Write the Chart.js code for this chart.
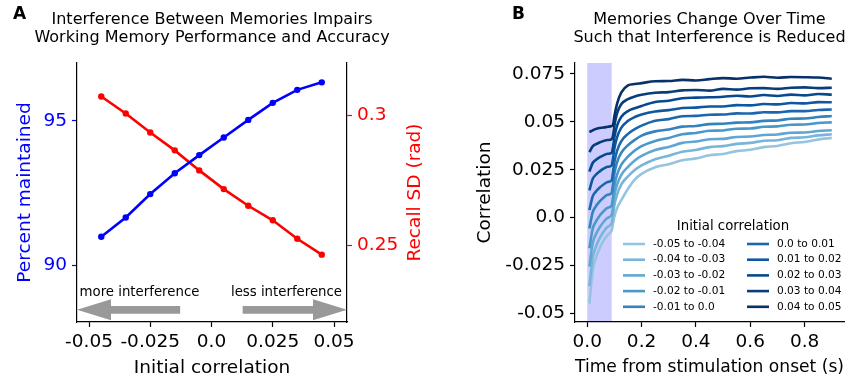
<!DOCTYPE html>
<html>
<head>
<meta charset="utf-8">
<script src="https://cdn.jsdelivr.net/npm/chart.js@4.4.1/dist/chart.umd.min.js"></script>
<style>
  body { margin: 0; background: #fff; }
  #wrapA { position: absolute; left: 0; top: 0; width: 430px; height: 384px; }
  #wrapB { position: absolute; left: 430px; top: 0; width: 429px; height: 384px; }
</style>
</head>
<body>
<div id="wrapA"><canvas id="chartA" width="430" height="384"></canvas></div>
<div id="wrapB"><canvas id="chartB" width="429" height="384"></canvas></div>
<script>
const FONT = "'DejaVu Sans', sans-serif";

// ---- panel A data ----
const initialCorr = [-0.045, -0.035, -0.025, -0.015, -0.005, 0.005, 0.015, 0.025, 0.035, 0.045];
const percentMaintained = [90.98, 91.65, 92.46, 93.18, 93.81, 94.42, 95.03, 95.62, 96.07, 96.33];
const recallSD = [0.3071, 0.3006, 0.2933, 0.2864, 0.2787, 0.2715, 0.2651, 0.2595, 0.2524, 0.2463];
const xTicksA = [-0.05, -0.025, 0, 0.025, 0.05];
const xTickLabelsA = ["-0.05", "-0.025", "0.0", "0.025", "0.05"];
const leftTicksA = [90, 95];
const rightTicksA = [0.25, 0.3];
const rightTickLabelsA = ["0.25", "0.3"];

// ---- panel B data ----
const timeSec = [0.008, 0.02, 0.03, 0.045, 0.06, 0.075, 0.09, 0.095, 0.1, 0.11, 0.125, 0.15, 0.175, 0.2,
  0.25, 0.3, 0.35, 0.4, 0.45, 0.5, 0.55, 0.6, 0.65, 0.7, 0.75, 0.8, 0.85, 0.9];
const binLabels = ["-0.05 to -0.04", "-0.04 to -0.03", "-0.03 to -0.02", "-0.02 to -0.01", "-0.01 to 0.0",
  "0.0 to 0.01", "0.01 to 0.02", "0.02 to 0.03", "0.03 to 0.04", "0.04 to 0.05"];
const corrBinM5 = [-0.0449, -0.0277, -0.0219, -0.0162, -0.0120, -0.0090, -0.0066, -0.0030, 0.0005, 0.0050, 0.0090, 0.0151, 0.0198, 0.0228,
  0.0263, 0.0279, 0.0299, 0.0309, 0.0325, 0.0332, 0.0347, 0.0354, 0.0368, 0.0374, 0.0388, 0.0395, 0.0408, 0.0416];
const corrBinM4 = [-0.0358, -0.0210, -0.0160, -0.0110, -0.0074, -0.0048, -0.0028, 0.0015, 0.0065, 0.0120, 0.0172, 0.0215, 0.0248, 0.0272,
  0.0305, 0.0323, 0.0344, 0.0353, 0.0368, 0.0373, 0.0385, 0.0390, 0.0401, 0.0404, 0.0416, 0.0419, 0.0429, 0.0435];
const corrBinM3 = [-0.0256, -0.0134, -0.0093, -0.0053, -0.0023, -0.0001, 0.0015, 0.0060, 0.0115, 0.0172, 0.0222, 0.0265, 0.0298, 0.0322,
  0.0353, 0.0369, 0.0390, 0.0397, 0.0409, 0.0411, 0.0421, 0.0423, 0.0431, 0.0434, 0.0443, 0.0444, 0.0452, 0.0456];
const corrBinM2 = [-0.0160, -0.0059, -0.0026, 0.0008, 0.0033, 0.0051, 0.0064, 0.0110, 0.0165, 0.0225, 0.0275, 0.0318, 0.0350, 0.0373,
  0.0400, 0.0416, 0.0435, 0.0442, 0.0453, 0.0455, 0.0464, 0.0465, 0.0474, 0.0476, 0.0485, 0.0486, 0.0494, 0.0497];
const corrBinM1 = [-0.0057, 0.0027, 0.0055, 0.0083, 0.0104, 0.0119, 0.0130, 0.0180, 0.0230, 0.0290, 0.0338, 0.0378, 0.0406, 0.0428,
  0.0450, 0.0460, 0.0475, 0.0478, 0.0488, 0.0490, 0.0496, 0.0497, 0.0505, 0.0507, 0.0516, 0.0517, 0.0525, 0.0530];
const corrBinP0 = [0.0040, 0.0110, 0.0133, 0.0156, 0.0173, 0.0186, 0.0195, 0.0240, 0.0290, 0.0350, 0.0398, 0.0437, 0.0462, 0.0480,
  0.0505, 0.0514, 0.0529, 0.0531, 0.0537, 0.0538, 0.0544, 0.0543, 0.0550, 0.0549, 0.0556, 0.0556, 0.0562, 0.0564];
const corrBinP1 = [0.0142, 0.0201, 0.0221, 0.0240, 0.0255, 0.0265, 0.0273, 0.0310, 0.0360, 0.0420, 0.0468, 0.0505, 0.0525, 0.0538,
  0.0554, 0.0561, 0.0572, 0.0574, 0.0580, 0.0580, 0.0587, 0.0586, 0.0593, 0.0591, 0.0598, 0.0596, 0.0603, 0.0602];
const corrBinP2 = [0.0240, 0.0285, 0.0299, 0.0314, 0.0325, 0.0333, 0.0339, 0.0370, 0.0420, 0.0480, 0.0525, 0.0556, 0.0571, 0.0583,
  0.0603, 0.0610, 0.0623, 0.0626, 0.0628, 0.0631, 0.0636, 0.0632, 0.0640, 0.0635, 0.0642, 0.0638, 0.0645, 0.0642];
const corrBinP3 = [0.0342, 0.0372, 0.0382, 0.0392, 0.0400, 0.0405, 0.0409, 0.0430, 0.0480, 0.0545, 0.0592, 0.0618, 0.0632, 0.0641,
  0.0652, 0.0655, 0.0664, 0.0666, 0.0663, 0.0672, 0.0668, 0.0675, 0.0676, 0.0672, 0.0678, 0.0680, 0.0676, 0.0678];
const corrBinP4 = [0.0447, 0.0455, 0.0462, 0.0468, 0.0470, 0.0474, 0.0478, 0.0485, 0.0530, 0.0595, 0.0652, 0.0690, 0.0697, 0.0702,
  0.0712, 0.0713, 0.0719, 0.0716, 0.0723, 0.0728, 0.0725, 0.0731, 0.0735, 0.0730, 0.0734, 0.0733, 0.0731, 0.0725];
const corrSeries = [corrBinM5, corrBinM4, corrBinM3, corrBinM2, corrBinM1, corrBinP0, corrBinP1, corrBinP2, corrBinP3, corrBinP4];
const xTicksB = [0, 0.2, 0.4, 0.6, 0.8];
const xTickLabelsB = ["0.0", "0.2", "0.4", "0.6", "0.8"];
const yTicksB = [-0.05, -0.025, 0, 0.025, 0.05, 0.075];
const yTickLabelsB = ["-0.05", "-0.025", "0.0", "0.025", "0.05", "0.075"];
const stimWindow = [0, 0.09];

const blues = ["#94c4df", "#79b5d9", "#60a6d2", "#4a98c9", "#3383be", "#1b67ad", "#0f58a1", "#08488e", "#083d7c", "#08306b"];

// fixed ticks helper
function fixedTicks(values) {
  return ax => { ax.ticks = values.map(v => ({ value: v })); };
}

function headerPlugin(letter, letterX, lines) {
  return {
    id: "header",
    afterDraw(chart) {
      const { ctx, chartArea } = chart;
      ctx.save();
      ctx.fillStyle = "#000";
      ctx.textBaseline = "middle";
      ctx.textAlign = "left";
      ctx.font = "bold 17px " + FONT;
      ctx.fillText(letter, letterX, 15);
      ctx.font = "16px " + FONT;
      ctx.textAlign = "center";
      const cx = (chartArea.left + chartArea.right) / 2;
      lines.forEach((t, i) => ctx.fillText(t, cx, 19.5 + i * 18));
      ctx.restore();
    }
  };
}

// arrows + labels on panel A, in data coords of x and left y
const arrowNotes = [
  { tail: -0.0128, tip: -0.0549, text: "more interference", textX: -0.0294 },
  { tail: 0.0127, tip: 0.0553, text: "less interference", textX: 0.0306 }
];
const arrowLevel = 88.45;
const arrowTextLevel = 89.06;

const arrowPlugin = {
  id: "arrows",
  afterDatasetsDraw(chart) {
    const { ctx, scales } = chart;
    const y = scales.y.getPixelForValue(arrowLevel);
    const ty = scales.y.getPixelForValue(arrowTextLevel);
    ctx.save();
    arrowNotes.forEach(a => {
      const x0 = scales.x.getPixelForValue(a.tail);
      const x1 = scales.x.getPixelForValue(a.tip);
      const dir = Math.sign(x1 - x0);
      const hb = x1 - dir * 34;
      ctx.fillStyle = "#999999";
      ctx.beginPath();
      ctx.moveTo(x0, y - 3.8);
      ctx.lineTo(hb, y - 3.8);
      ctx.lineTo(hb, y - 10.5);
      ctx.lineTo(x1, y);
      ctx.lineTo(hb, y + 10.5);
      ctx.lineTo(hb, y + 3.8);
      ctx.lineTo(x0, y + 3.8);
      ctx.closePath();
      ctx.fill();
      ctx.fillStyle = "#000";
      ctx.font = "13.3px " + FONT;
      ctx.textAlign = "center";
      ctx.textBaseline = "middle";
      ctx.fillText(a.text, scales.x.getPixelForValue(a.textX), ty);
    });
    ctx.restore();
  }
};

const rightTitlePlugin = {
  id: "rightTitle",
  afterDraw(chart) {
    const { ctx, chartArea } = chart;
    ctx.save();
    ctx.translate(415, (chartArea.top + chartArea.bottom) / 2);
    ctx.rotate(-Math.PI / 2);
    ctx.fillStyle = "#ff0000";
    ctx.font = "18.5px " + FONT;
    ctx.textAlign = "center";
    ctx.textBaseline = "middle";
    ctx.fillText("Recall SD (rad)", 0, 0);
    ctx.restore();
  }
};

const tickFont = { family: FONT, size: 18.5 };
const titleFont = { family: FONT, size: 18.5, lineHeight: 1.2 };

new Chart(document.getElementById("chartA"), {
  type: "line",
  data: {
    datasets: [
      {
        label: "Percent maintained",
        data: initialCorr.map((x, i) => ({ x: x, y: percentMaintained[i] })),
        yAxisID: "y",
        borderColor: "#0000ff",
        backgroundColor: "#0000ff",
        borderWidth: 2.6,
        pointRadius: 3.2,
        pointBorderWidth: 0,
        tension: 0
      },
      {
        label: "Recall SD",
        data: initialCorr.map((x, i) => ({ x: x, y: recallSD[i] })),
        yAxisID: "y1",
        borderColor: "#ff0000",
        backgroundColor: "#ff0000",
        borderWidth: 2.6,
        pointRadius: 3.2,
        pointBorderWidth: 0,
        tension: 0
      }
    ]
  },
  options: {
    responsive: false,
    animation: false,
    layout: { padding: { top: 63, left: 0, right: 0, bottom: 0 } },
    plugins: { legend: { display: false }, tooltip: { enabled: false } },
    scales: {
      x: {
        type: "linear", min: -0.0549, max: 0.0553,
        afterBuildTicks: fixedTicks(xTicksA),
        afterFit: ax => { ax.height = 62; },
        ticks: { autoSkip: false, maxRotation: 0, color: "#000", padding: 4, font: tickFont,
          callback: (v, i) => xTickLabelsA[i] },
        grid: { drawOnChartArea: false, tickLength: 5, tickColor: "#000", tickWidth: 1.2 },
        border: { color: "#000", width: 1.2 },
        title: { display: true, text: "Initial correlation", color: "#000", font: titleFont, padding: { top: 0, bottom: 5 } }
      },
      y: {
        position: "left", min: 88.03, max: 97.0,
        afterBuildTicks: fixedTicks(leftTicksA),
        afterFit: ax => { ax.width = 77; },
        ticks: { color: "#0000ff", padding: 5, font: tickFont, callback: v => String(v) },
        grid: { drawOnChartArea: false, tickLength: 5, tickColor: "#0000ff", tickWidth: 1.2 },
        border: { color: "#000", width: 1.2 },
        title: { display: true, text: "Percent maintained", color: "#0000ff", font: titleFont, padding: { top: 14, bottom: 0 } }
      },
      y1: {
        position: "right", min: 0.2204, max: 0.32,
        afterBuildTicks: fixedTicks(rightTicksA),
        afterFit: ax => { ax.width = 83; },
        ticks: { color: "#ff0000", padding: 5, font: tickFont, callback: (v, i) => rightTickLabelsA[i] },
        grid: { drawOnChartArea: false, tickLength: 5, tickColor: "#ff0000", tickWidth: 1.2 },
        border: { color: "#000", width: 1.2 }
      }
    }
  },
  plugins: [
    headerPlugin("A", 13, ["Interference Between Memories Impairs", "Working Memory Performance and Accuracy"]),
    arrowPlugin,
    rightTitlePlugin
  ]
});

const shadePlugin = {
  id: "stimShade",
  beforeDatasetsDraw(chart) {
    const { ctx, chartArea, scales } = chart;
    const x0 = scales.x.getPixelForValue(stimWindow[0]);
    const x1 = scales.x.getPixelForValue(stimWindow[1]);
    ctx.save();
    ctx.fillStyle = "rgba(0,0,255,0.2)";
    ctx.fillRect(x0, chartArea.top, x1 - x0, chartArea.bottom - chartArea.top);
    ctx.restore();
  }
};

const binLegendPlugin = {
  id: "binLegend",
  afterDraw(chart) {
    const { ctx } = chart;
    ctx.save();
    ctx.fillStyle = "#000";
    ctx.textBaseline = "middle";
    ctx.textAlign = "center";
    ctx.font = "13.3px " + FONT;
    ctx.fillText("Initial correlation", 303, 227);
    ctx.font = "10.6px " + FONT;
    ctx.textAlign = "left";
    chart.data.datasets.forEach((ds, i) => {
      const col = Math.floor(i / 5);
      const row = i % 5;
      const x0 = col === 0 ? 193 : 317;
      const y = 244 + row * 15.7;
      ctx.strokeStyle = ds.borderColor;
      ctx.lineWidth = 2.6;
      ctx.beginPath();
      ctx.moveTo(x0, y);
      ctx.lineTo(x0 + 22, y);
      ctx.stroke();
      ctx.fillText(ds.label, x0 + 30, y);
    });
    ctx.restore();
  }
};

new Chart(document.getElementById("chartB"), {
  type: "line",
  data: {
    datasets: corrSeries.map((vals, k) => ({
      label: binLabels[k],
      data: timeSec.map((t, i) => ({ x: t, y: vals[i] })),
      borderColor: blues[k],
      borderWidth: 2.6,
      pointRadius: 0,
      cubicInterpolationMode: "monotone",
      order: corrSeries.length - k
    }))
  },
  options: {
    responsive: false,
    animation: false,
    layout: { padding: { top: 63, left: 0, right: 15, bottom: 0 } },
    plugins: { legend: { display: false }, tooltip: { enabled: false } },
    scales: {
      x: {
        type: "linear", min: -0.045, max: 0.945,
        afterBuildTicks: fixedTicks(xTicksB),
        afterFit: ax => { ax.height = 62; },
        ticks: { autoSkip: false, maxRotation: 0, color: "#000", padding: 4, font: tickFont,
          callback: (v, i) => xTickLabelsB[i] },
        grid: { drawOnChartArea: false, tickLength: 5, tickColor: "#000", tickWidth: 1.2 },
        border: { color: "#000", width: 1.2 },
        title: { display: true, text: "Time from stimulation onset (s)", color: "#000", font: titleFont, padding: { top: 0, bottom: 6 } }
      },
      y: {
        position: "left", min: -0.0545, max: 0.0807,
        afterBuildTicks: fixedTicks(yTicksB),
        afterFit: ax => { ax.width = 145; },
        ticks: { color: "#000", padding: 5, font: tickFont, callback: (v, i) => yTickLabelsB[i] },
        grid: { drawOnChartArea: false, tickLength: 5, tickColor: "#000", tickWidth: 1.2 },
        border: { color: "#000", width: 1.2 },
        title: { display: true, text: "Correlation", color: "#000", font: titleFont, padding: { top: 44, bottom: 0 } }
      }
    }
  },
  plugins: [
    headerPlugin("B", 82, ["Memories Change Over Time", "Such that Interference is Reduced"]),
    shadePlugin,
    binLegendPlugin
  ]
});
</script>
</body>
</html>
